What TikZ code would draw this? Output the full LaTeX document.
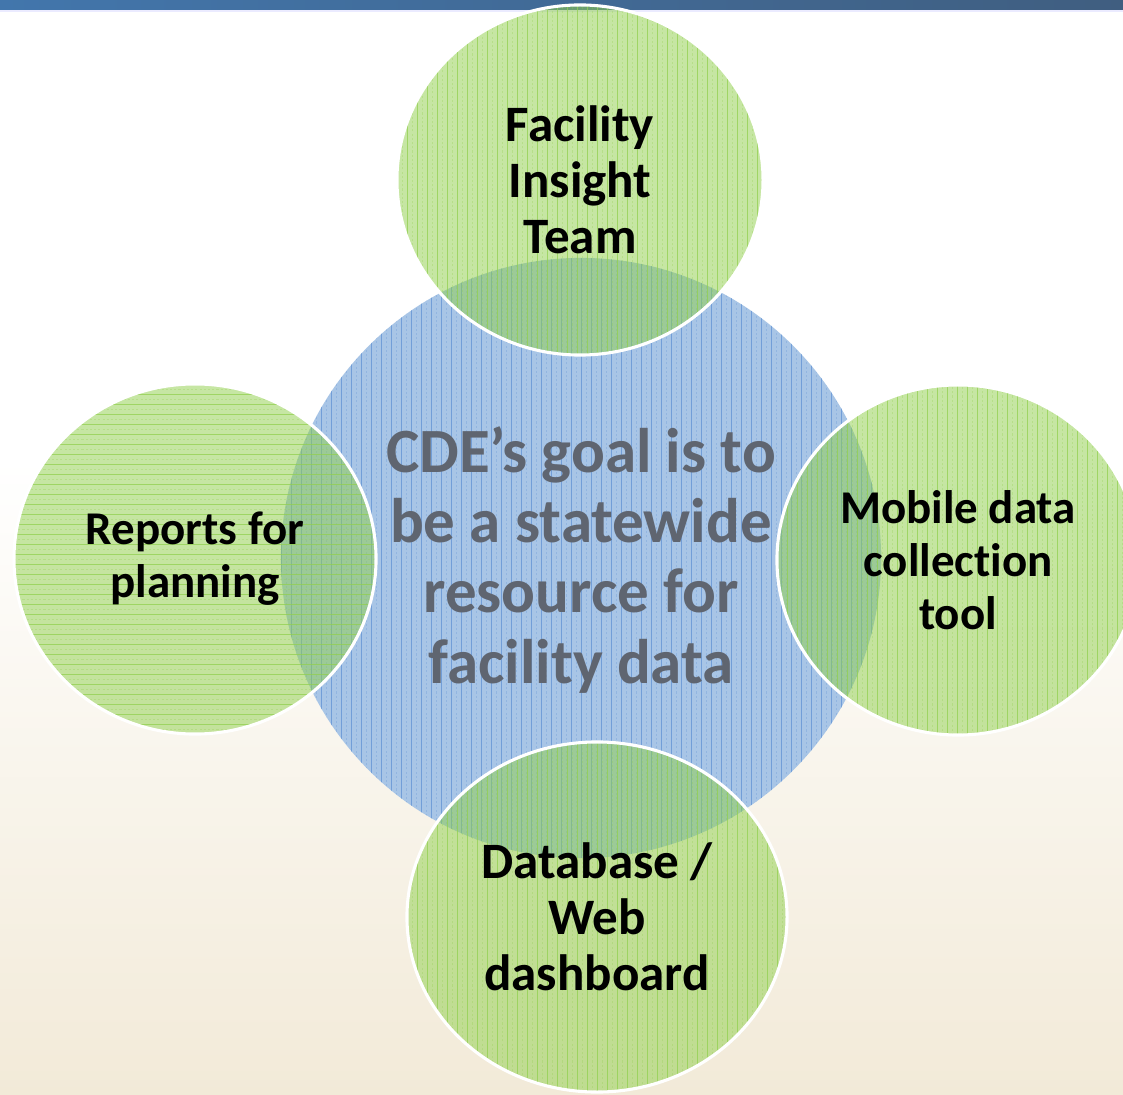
\documentclass[tikz,border=0pt]{standalone}
\usepackage{fontspec}
\setmainfont{Carlito}[Ligatures=NoCommon]
\usetikzlibrary{shapes.geometric}
\definecolor{goalblue}{RGB}{168,197,230}
\definecolor{goalline}{RGB}{96,146,212}
\definecolor{partgreen}{RGB}{146,208,80}
\definecolor{goaltext}{RGB}{95,101,112}
\definecolor{sandbg}{RGB}{242,234,216}
\definecolor{barblue}{RGB}{66,118,172}
\definecolor{bardark}{RGB}{64,94,128}

\begin{document}
\begin{tikzpicture}[x=0.025cm, y=-0.025cm,
  vlines/.style={path picture={
    \foreach \k in {0,...,64}{
      \draw[#1, line width=0.6pt]
        ([xshift=\k*0.25cm]path picture bounding box.south west) --
        ([xshift=\k*0.25cm]path picture bounding box.north west);
      \draw[#1, line width=0.3pt, draw opacity=0.3, dash pattern=on 1.5pt off 1.5pt]
        ([xshift=\k*0.25cm+0.125cm]path picture bounding box.south west) --
        ([xshift=\k*0.25cm+0.125cm]path picture bounding box.north west);}}},
  hlines/.style={path picture={
    \foreach \k in {0,...,40}{
      \draw[#1, line width=0.6pt]
        ([yshift=\k*0.25cm]path picture bounding box.south west) --
        ([yshift=\k*0.25cm]path picture bounding box.south east);
      \draw[#1, line width=0.3pt, draw opacity=0.3, dash pattern=on 1.5pt off 1.5pt]
        ([yshift=\k*0.25cm+0.125cm]path picture bounding box.south west) --
        ([yshift=\k*0.25cm+0.125cm]path picture bounding box.south east);}}},
  goal/.style={circle, fill=goalblue, inner sep=0pt, minimum size=15cm,
               vlines={goalline, draw opacity=0.75}},
  part/.style={ellipse, draw=white, line width=2.2pt, fill=partgreen,
               fill opacity=0.52, text opacity=1, inner sep=0pt,
               minimum width=9.05cm, minimum height=8.75cm, align=center, text=black},
  bigtxt/.style={font=\fontsize{36.3}{39.8}\selectfont\bfseries},
  smalltxt/.style={font=\fontsize{33.4}{37.7}\selectfont\bfseries},
]
% Background and title bar
\useasboundingbox (0,0) rectangle (1123,1095);
\fill[white] (0,0) rectangle (1123,460);
\shade[top color=white, bottom color=sandbg] (0,459) rectangle (1123,1095);
\shade[left color=barblue, right color=bardark] (0,0) rectangle (1123,10);
\fill[blue!8] (0,10) rectangle (1123,12);

% Central goal
\node[goal] (goal) at (581,558) {};

% Surrounding parts
\node[part, bigtxt, minimum width=9.15cm, vlines={partgreen, draw opacity=0.75}]
  (team) at (580,180) {Facility\\Insight\\Team};
\node[part, smalltxt, hlines={partgreen, draw opacity=0.75}]
  (reports) at (195,559) {Reports for\\planning};
\node[part, smalltxt, vlines={partgreen, draw opacity=0.75}]
  (mobile) at (958,560) {Mobile data\\collection\\tool};
\node[part, bigtxt, minimum width=9.5cm, vlines={partgreen, draw opacity=0.75}]
  (dash) at (597,917) {Database /\\Web\\dashboard};

% Goal text on top
\node[align=center, text=goaltext, font=\fontsize{44.8}{49.8}\selectfont\bfseries]
  (goaltxt) at (581,560) {CDE’s goal is to\\be a statewide\\resource for\\facility data};
\end{tikzpicture}
\end{document}
